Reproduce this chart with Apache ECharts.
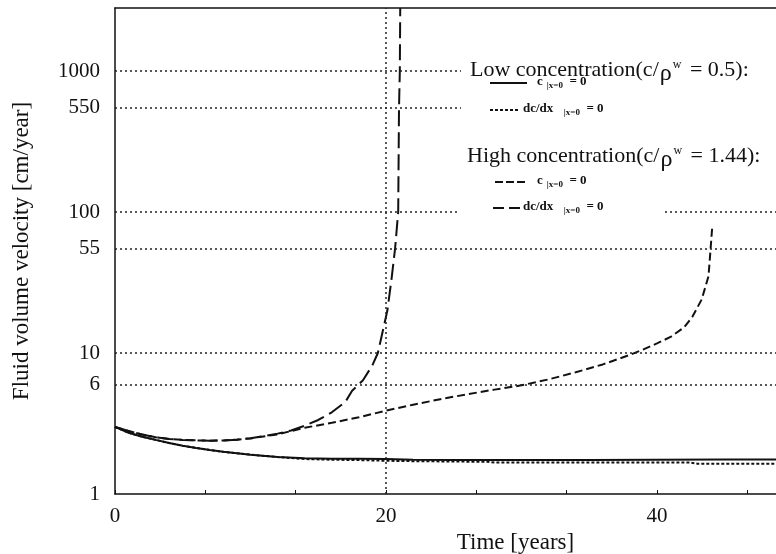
<!DOCTYPE html>
<html>
<head>
<meta charset="utf-8">
<script src="https://cdn.jsdelivr.net/npm/echarts@6/dist/echarts.min.js"></script>
<style>
html, body { margin: 0; padding: 0; background: #fff; }
#chart { width: 776px; height: 554px; }
</style>
</head>
<body>
<div id="chart"></div>
<script>
// y轴刻度和虚线位置
const yTicks = [1, 6, 10, 55, 100, 550, 1000]
const gridValues = [6, 10, 55, 100, 550, 1000]
const markYear = 20

// low concentration, c|x=0 = 0 (实线)
const lowCT = [0, 1, 2, 3, 4, 5, 6, 7, 8, 10, 12, 14, 16, 18, 20, 22, 25, 30, 35, 40, 45, 49]
const lowCV = [2.99, 2.72, 2.55, 2.42, 2.3, 2.2, 2.12, 2.05, 1.99, 1.9, 1.83, 1.79, 1.78, 1.78, 1.77, 1.75, 1.74, 1.74, 1.74, 1.75, 1.76, 1.76]

// low concentration, dc/dx = 0 (短点线)
const lowDT = [0, 1, 2, 3, 4, 5, 6, 7, 8, 10, 12, 14, 16, 18, 20, 22, 25, 27.5, 28, 35, 42.5, 43, 49]
const lowDV = [2.99, 2.72, 2.55, 2.42, 2.3, 2.2, 2.12, 2.05, 1.99, 1.9, 1.83, 1.77, 1.75, 1.74, 1.72, 1.71, 1.70, 1.69, 1.67, 1.67, 1.67, 1.64, 1.64]

// high concentration, c|x=0 = 0 (中虚线)
const highCT = [0, 1, 2, 3, 4, 5, 6, 7, 8, 9, 10, 12, 14, 16, 18, 20, 22, 24, 26, 28, 30, 32, 34, 36, 38, 39, 40, 41, 42, 42.6, 43.3, 43.8, 43.95, 44.07]
const highCV = [2.99, 2.8, 2.64, 2.53, 2.46, 2.42, 2.4, 2.39, 2.4, 2.43, 2.48, 2.65, 2.95, 3.2, 3.5, 3.9, 4.3, 4.7, 5.1, 5.5, 5.9, 6.5, 7.3, 8.3, 9.7, 10.6, 11.7, 13.0, 15.2, 18, 24, 35, 54, 77]

// high concentration, dc/dx = 0 (长虚线)
const highDT = [0, 1, 2, 3, 4, 5, 6, 7, 8, 9, 10, 11, 12, 13, 14, 15, 16, 17, 17.5, 18.3, 19, 19.4, 20.1, 20.4, 20.67, 20.9, 20.96, 21.02, 21.05]
const highDV = [2.99, 2.8, 2.64, 2.53, 2.46, 2.42, 2.4, 2.39, 2.4, 2.43, 2.49, 2.57, 2.68, 2.82, 3.05, 3.35, 3.8, 4.5, 5.4, 6.4, 8.2, 10, 20, 33, 55, 100, 550, 1000, 2800]

const pairs = (t, v) => t.map((x, i) => [x, v[i]])

const font = "'Liberation Serif', 'DejaVu Serif', serif"
const ink = '#111'

const chart = echarts.init(document.getElementById('chart'))

const curve = (name, t, v, type, width) => ({
	name: name,
	type: 'line',
	data: pairs(t, v),
	showSymbol: false,
	symbol: 'none',
	smooth: false,
	clip: true,
	lineStyle: { color: ink, width: width, type: type },
	z: 3
})

const smallText = (left, top, head) => ({
	type: 'text',
	left: left,
	top: top,
	z: 101,
	style: {
		text: head + '{sub|\u007cx=0}{eq|  = 0}',
		font: 'bold 13px ' + font,
		fill: ink,
		rich: {
			sub: { fontSize: 9, fontWeight: 'bold', fontFamily: font, padding: [9, 0, 0, 4] },
			eq: { fontSize: 13, fontWeight: 'bold', fontFamily: font }
		}
	}
})

const legendLine = (x1, x2, y, dash) => ({
	type: 'line',
	z: 101,
	shape: { x1: x1, y1: y, x2: x2, y2: y },
	style: { stroke: ink, lineWidth: 1.8, lineDash: dash }
})

const titleText = (left, top, head, val) => ({
	type: 'text',
	left: left,
	top: top,
	z: 101,
	style: {
		text: head + ' concentration(c/{rho|\u03c1}{sup|w} = ' + val + '):',
		font: '22px ' + font,
		fill: ink,
		rich: {
			rho: { fontSize: 24, fontFamily: font, padding: [6, 0, 0, 1] },
			sup: { fontSize: 12, fontFamily: font, padding: [0, 3, 11, 1] }
		}
	}
})

const option = {
	animation: false,
	backgroundColor: '#fff',
	grid: { left: 115, right: -152, top: 8, bottom: 60, outerBoundsMode: 'none' },
	xAxis: [{
		type: 'value',
		min: 0,
		max: 60,
		interval: 20,
		name: 'Time [years]',
		nameLocation: 'middle',
		nameGap: 34,
		nameTextStyle: { fontSize: 23, fontFamily: font, color: ink, padding: [0, 12, 0, 0] },
		axisLine: { show: true, lineStyle: { color: ink, width: 1.5 } },
		axisTick: { show: true, inside: true, length: 4, lineStyle: { color: ink } },
		minorTick: { show: true, splitNumber: 3, length: 4, lineStyle: { color: ink } },
		axisLabel: { fontSize: 21, fontFamily: font, color: ink, margin: 12 },
		splitLine: { show: false }
	}, {
		type: 'value',
		position: 'top',
		min: 0,
		max: 60,
		axisLine: { show: true, lineStyle: { color: ink, width: 1.5 } },
		axisTick: { show: false },
		axisLabel: { show: false },
		splitLine: { show: false }
	}],
	yAxis: {
		type: 'log',
		logBase: 10,
		min: 1,
		max: 2800,
		name: 'Fluid volume velocity [cm/year]',
		nameLocation: 'middle',
		nameGap: 82,
		nameTextStyle: { fontSize: 23, fontFamily: font, color: ink },
		axisLine: { show: true, lineStyle: { color: ink, width: 1.5 } },
		axisTick: { show: false },
		axisLabel: {
			customValues: yTicks,
			formatter: (v) => String(Math.round(v)),
			fontSize: 21, fontFamily: font, color: ink, margin: 15
		},
		splitLine: { show: false }
	},
	series: [
		Object.assign(curve('low c=0', lowCT, lowCV, 'solid', 2), {
			markLine: {
				silent: true,
				symbol: 'none',
				label: { show: false },
				lineStyle: { color: '#222', width: 1.5, type: [2, 3] },
				data: gridValues.map(v => ({ yAxis: v })).concat([{ xAxis: markYear }])
			}
		}),
		curve('low dc/dx=0', lowDT, lowDV, [3, 2], 2),
		curve('high c=0', highCT, highCV, [8, 4], 2),
		curve('high dc/dx=0', highDT, highDV, [16, 6], 2)
	],
	graphic: [
		// 图例底色，盖住网格线
		{ type: 'rect', left: 461, top: 58, z: 100, shape: { width: 320, height: 60 }, style: { fill: '#fff' } },
		{ type: 'rect', left: 459, top: 200, z: 100, shape: { width: 203, height: 22 }, style: { fill: '#fff' } },
		titleText(470, 59, 'Low', '0.5'),
		legendLine(490, 527, 83, null),
		smallText(537, 75, 'c'),
		legendLine(490, 518, 110, [3, 2]),
		smallText(523, 102, 'dc/dx  '),
		titleText(467, 145, 'High', '1.44'),
		legendLine(495, 528, 182, [8, 3]),
		smallText(537, 174, 'c'),
		legendLine(493, 520, 208, [11, 5]),
		smallText(523, 200, 'dc/dx  ')
	]
}

chart.setOption(option)
</script>
</body>
</html>
